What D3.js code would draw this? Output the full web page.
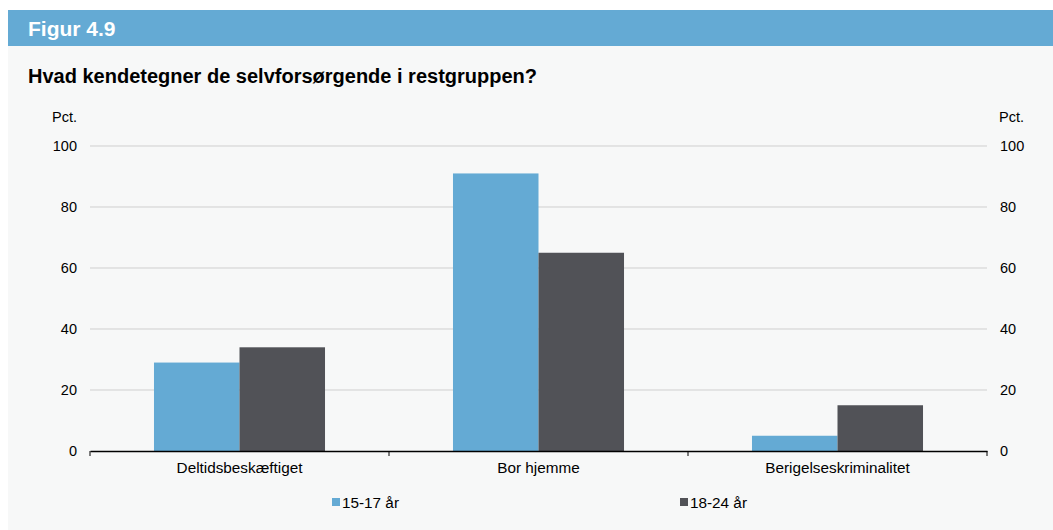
<!DOCTYPE html>
<html>
<head>
<meta charset="utf-8">
<script src="https://cdn.jsdelivr.net/npm/d3@7"></script>
<style>
  body { margin: 0; background: #fff; font-family: "Liberation Sans", Arial, sans-serif; }
</style>
</head>
<body>
<script>
const categories = ["Deltidsbeskæftiget", "Bor hjemme", "Berigelseskriminalitet"];
const seriesNames = ["15-17 år", "18-24 år"];
const values1517 = [29, 91, 5];
const values1824 = [34, 65, 15];
const yTicks = [0, 20, 40, 60, 80, 100];
const colors = ["#64aad4", "#515257"];

let width = 1053;
let height = 530;
let marginLeft = 90;
let marginRight = 66;
let marginTop = 146;
let plotBottom = 451;

let svg = d3.select("body").append("svg")
    .attr("width", width)
    .attr("height", height)
    .attr("viewBox", [0, 0, width, height]);

// panel background and header band
svg.append("rect").attr("x", 8).attr("y", 10).attr("width", width - 8).attr("height", height - 10).attr("fill", "#f7f8f8");
svg.append("rect").attr("x", 8).attr("y", 10).attr("width", width - 8).attr("height", 36).attr("fill", "#64aad4");
svg.append("text").attr("x", 28).attr("y", 36).attr("fill", "#fff")
    .style("font-size", "21px").style("font-weight", "bold").text("Figur 4.9");
svg.append("text").attr("x", 28).attr("y", 83).attr("fill", "#000")
    .style("font-size", "20px").style("font-weight", "bold")
    .text("Hvad kendetegner de selvforsørgende i restgruppen?");

let x = d3.scaleBand()
    .domain(categories)
    .range([marginLeft, width - marginRight])
    .padding(0);

let y = d3.scaleLinear()
    .domain([0, 100])
    .range([plotBottom, marginTop]);

let barW = x.bandwidth() * 0.286;
let groupOff = (x.bandwidth() - 2 * barW) / 2;

// gridlines
svg.append("g")
    .selectAll("line")
    .data(yTicks.filter(d => d > 0))
    .join("line")
    .attr("x1", marginLeft)
    .attr("x2", width - marginRight)
    .attr("y1", d => y(d))
    .attr("y2", d => y(d))
    .attr("stroke", "#cfcfcf")
    .attr("stroke-width", 1);

const tickFont = g => g.selectAll("text")
    .style("font-size", "14.5px")
    .style("font-family", "Liberation Sans, Arial, sans-serif")
    .attr("fill", "#000");

// left axis labels
svg.append("g")
    .attr("transform", `translate(${marginLeft},0)`)
    .call(d3.axisLeft(y).tickValues(yTicks).tickSize(0).tickPadding(13))
    .call(g => g.select(".domain").remove())
    .call(tickFont);

// right axis labels
svg.append("g")
    .attr("transform", `translate(${width - marginRight},0)`)
    .call(d3.axisRight(y).tickValues(yTicks).tickSize(0).tickPadding(13))
    .call(g => g.select(".domain").remove())
    .call(tickFont);

svg.append("text").attr("x", 77).attr("y", 122).attr("text-anchor", "end")
    .style("font-size", "14.5px").text("Pct.");
svg.append("text").attr("x", 999).attr("y", 122).attr("text-anchor", "start")
    .style("font-size", "14.5px").text("Pct.");

// bars
[values1517, values1824].forEach((vals, i) => {
    svg.append("g")
        .selectAll("rect")
        .data(categories.map((c, j) => ({ cat: c, v: vals[j] })))
        .join("rect")
        .attr("x", d => x(d.cat) + groupOff + i * barW)
        .attr("y", d => y(d.v))
        .attr("width", barW)
        .attr("height", d => y(0) - y(d.v))
        .attr("fill", colors[i]);
});

// x axis
svg.append("g")
    .attr("transform", `translate(0,${plotBottom})`)
    .call(d3.axisBottom(x).tickSize(0).tickPadding(11))
    .call(g => g.select(".domain").attr("stroke", "#000").attr("stroke-width", 1.5))
    .call(g => g.selectAll("text").style("font-size", "15.3px").style("font-family", "Liberation Sans, Arial, sans-serif").attr("fill", "#000"));

// category boundary ticks
let boundaries = categories.map(c => x(c)).concat([x(categories[categories.length - 1]) + x.bandwidth()]);
svg.append("g")
    .selectAll("line")
    .data(boundaries)
    .join("line")
    .attr("x1", d => d).attr("x2", d => d)
    .attr("y1", plotBottom).attr("y2", plotBottom + 5)
    .attr("stroke", "#000").attr("stroke-width", 1);

// legend
let legendX = [332, 680];
let legend = svg.append("g")
    .selectAll("g")
    .data(seriesNames)
    .join("g")
    .attr("transform", (d, i) => `translate(${legendX[i]},498)`);
legend.append("rect").attr("width", 8).attr("height", 8).attr("fill", (d, i) => colors[i]);
legend.append("text").attr("x", 10).attr("y", 9.5).style("font-size", "15.3px").attr("fill", "#000").text(d => d);
</script>
</body>
</html>
